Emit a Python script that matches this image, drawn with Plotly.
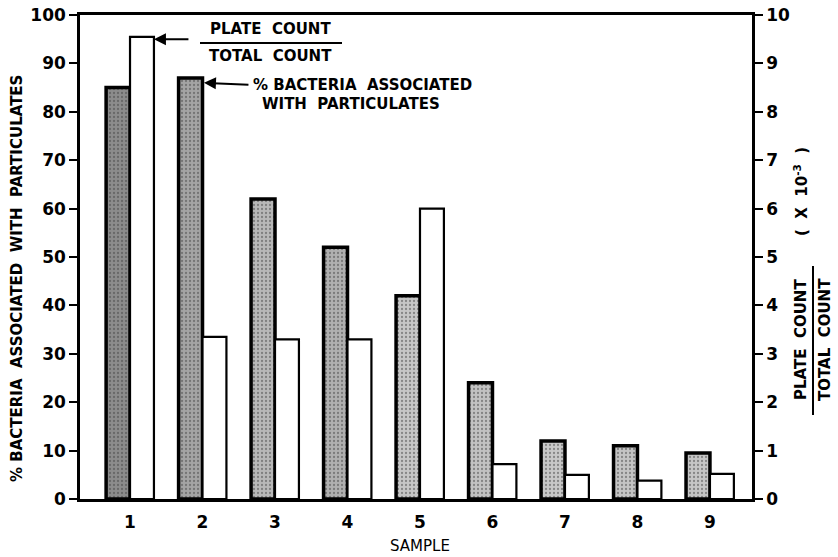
import plotly.graph_objects as go

samples = [1, 2, 3, 4, 5, 6, 7, 8, 9]
pct_particulate = [85, 87, 62, 52, 42, 24, 12, 11, 9.5]
plate_total_ratio = [9.55, 3.35, 3.3, 3.3, 6.0, 0.72, 0.5, 0.38, 0.52]
shade_colors = ["#8c8c8c", "#a4a4a4", "#b8b8b8", "#b0b0b0", "#c6c6c6",
                "#c2c2c2", "#c8c8c8", "#c4c4c4", "#c6c6c6"]
left_ticks = [0, 10, 20, 30, 40, 50, 60, 70, 80, 90, 100]
right_ticks = [0, 1, 2, 3, 4, 5, 6, 7, 8, 9, 10]

FONT = "DejaVu Sans"
BW = 0.33

fig = go.Figure()
fig.add_trace(go.Bar(
    x=samples, y=pct_particulate, width=BW, offset=-BW,
    marker=dict(color=shade_colors, line=dict(color="black", width=3.5),
                pattern=dict(shape=".", fgcolor="#606060", size=4, solidity=0.25)),
    yaxis="y", showlegend=False))
fig.add_trace(go.Bar(
    x=samples, y=plate_total_ratio, width=BW, offset=0,
    marker=dict(color="white", line=dict(color="black", width=2.2)),
    yaxis="y2", showlegend=False))

W, H = 838, 557
L, R, T, B = 80, 752, 15, 499          # plot area in page pixels

def px(x):
    return (x - L) / (R - L)

def py(y):
    return (B - y) / (B - T)

tickfont = dict(family=FONT, size=17, color="black", weight="bold")
fig.update_layout(
    width=W, height=H,
    margin=dict(l=L, r=W - R, t=T, b=H - B, autoexpand=False),
    plot_bgcolor="white", paper_bgcolor="white",
    barmode="overlay",
    xaxis=dict(range=[0.31, 9.58], tickvals=samples, ticktext=[str(s) for s in samples],
               showline=True, linecolor="black", linewidth=2.5, mirror=True,
               ticks="", showgrid=False, zeroline=False, tickfont=tickfont,
               ticklabelstandoff=6, automargin=False),
    yaxis=dict(range=[0, 100], tickvals=left_ticks, showline=True, linecolor="black",
               linewidth=2.5, ticks="outside", ticklen=8, tickwidth=2, tickcolor="black",
               showgrid=False, zeroline=False, tickfont=tickfont, automargin=False,
               ticklabeloverflow="allow"),
    yaxis2=dict(range=[0, 10], tickvals=right_ticks, overlaying="y", side="right",
                showline=True, linecolor="black", linewidth=2.5, ticks="outside",
                ticklen=8, tickwidth=2, tickcolor="black", showgrid=False,
                zeroline=False, tickfont=tickfont, automargin=False,
                ticklabeloverflow="allow"),
)

ann_font = dict(family=FONT, size=15, color="black", weight="bold")
anns = [
    # in-plot labels
    dict(x=px(270), y=py(29), text="PLATE  COUNT"),
    dict(x=px(270), y=py(56), text="TOTAL  COUNT"),
    dict(x=px(362), y=py(85), text="% BACTERIA  ASSOCIATED"),
    dict(x=px(351), y=py(104), text="WITH  PARTICULATES"),
    # axis titles
    dict(x=px(17), y=py(279), text="% BACTERIA  ASSOCIATED  WITH  PARTICULATES", textangle=-90),
    dict(x=px(801), y=py(340), text="PLATE  COUNT", textangle=-90),
    dict(x=px(825), y=py(340), text="TOTAL  COUNT", textangle=-90),
    dict(x=px(801), y=py(192), text="(  X  10<sup>-3</sup>  )", textangle=-90),
]
for a in anns:
    fig.add_annotation(xref="paper", yref="paper", showarrow=False,
                       font=ann_font, xanchor="center", yanchor="middle", **a)

fig.add_annotation(xref="paper", yref="paper", x=px(420), y=py(536), showarrow=False,
                   xanchor="center", yanchor="top", borderpad=0,
                   text="SAMPLE", font=dict(family=FONT, size=15, color="black"))

# fraction bars
fig.add_shape(type="line", xref="paper", yref="paper", x0=px(200), x1=px(342),
              y0=py(43), y1=py(43), line=dict(color="black", width=2))
fig.add_shape(type="line", xref="paper", yref="paper", x0=px(813), x1=px(813),
              y0=py(266), y1=py(415), line=dict(color="black", width=2))

# arrows
fig.add_annotation(xref="x", yref="y2", x=1 + BW, y=plate_total_ratio[0] - 0.05, text="",
                   showarrow=True, arrowhead=2, arrowsize=1.2, arrowwidth=2,
                   ax=36, ay=0, arrowcolor="black")
fig.add_annotation(xref="x", yref="y", x=2 + 0.02, y=pct_particulate[1] - 1, text="",
                   showarrow=True, arrowhead=2, arrowsize=1.2, arrowwidth=2,
                   ax=46, ay=2, arrowcolor="black")

fig.write_html("out.html", config={"displayModeBar": False},
               post_script="document.body.style.margin='0';document.body.style.overflow='hidden';")
